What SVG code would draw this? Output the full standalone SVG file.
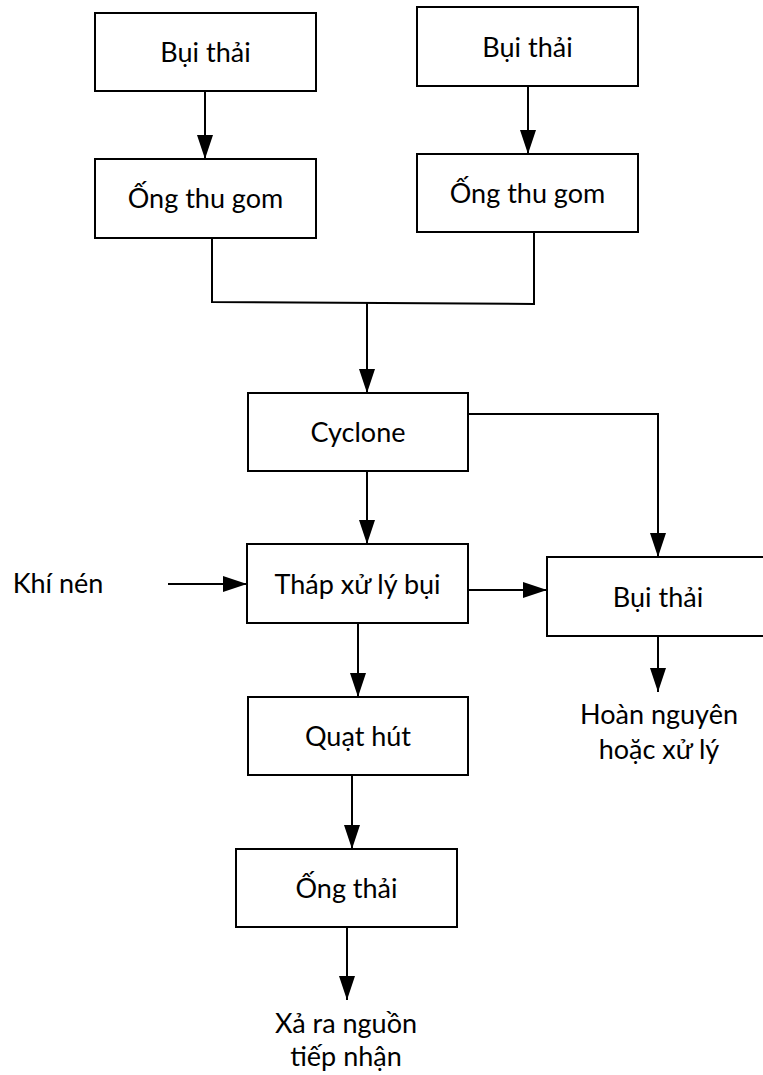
<svg xmlns="http://www.w3.org/2000/svg" width="763" height="1075" viewBox="0 0 763 1075">
  <style>
    .box { fill: #ffffff; stroke: #000000; stroke-width: 2; }
    .lbl { font-family: Lato, "Open Sans", "Liberation Sans", sans-serif; font-size: 27px; fill: #000000; text-anchor: middle; }
    .wire { fill: none; stroke: #000000; stroke-width: 2; }
  </style>
  <defs>
    <marker id="arrow" viewBox="0 0 24 16" refX="24" refY="8" markerWidth="24" markerHeight="16" markerUnits="userSpaceOnUse" orient="auto">
      <path d="M0,0 L24,8 L0,16 Z" fill="#000000"/>
    </marker>
  </defs>

  <!-- connectors -->
  <g id="connectors">
    <line class="wire" x1="205" y1="91" x2="205" y2="159" marker-end="url(#arrow)"/>
    <line class="wire" x1="528" y1="86" x2="528" y2="154" marker-end="url(#arrow)"/>
    <polyline class="wire" points="212,238 212,302 534,304 534,232"/>
    <line class="wire" x1="367" y1="303" x2="367" y2="393" marker-end="url(#arrow)"/>
    <polyline class="wire" points="468,414 658,414 658,557" marker-end="url(#arrow)"/>
    <line class="wire" x1="367" y1="471" x2="367" y2="544" marker-end="url(#arrow)"/>
    <line class="wire" x1="168" y1="584" x2="247" y2="584" marker-end="url(#arrow)"/>
    <line class="wire" x1="468" y1="590" x2="547" y2="590" marker-end="url(#arrow)"/>
    <line class="wire" x1="358" y1="623" x2="358" y2="697" marker-end="url(#arrow)"/>
    <line class="wire" x1="658" y1="636" x2="658" y2="692" marker-end="url(#arrow)"/>
    <line class="wire" x1="352" y1="775" x2="352" y2="849" marker-end="url(#arrow)"/>
    <line class="wire" x1="347" y1="927" x2="347" y2="1000" marker-end="url(#arrow)"/>
  </g>

  <g id="bui-thai-1">
    <rect class="box" x="95" y="13" width="221" height="78"/>
    <text class="lbl" x="205.5" y="62">Bụi thải</text>
  </g>
  <g id="ong-thu-gom-1">
    <rect class="box" x="95" y="159" width="221" height="79"/>
    <text class="lbl" x="205.5" y="208">Ống thu gom</text>
  </g>
  <g id="bui-thai-2">
    <rect class="box" x="417" y="7" width="221" height="79"/>
    <text class="lbl" x="527.5" y="57">Bụi thải</text>
  </g>
  <g id="ong-thu-gom-2">
    <rect class="box" x="417" y="154" width="221" height="78"/>
    <text class="lbl" x="527.5" y="203">Ống thu gom</text>
  </g>
  <g id="cyclone">
    <rect class="box" x="248" y="393" width="220" height="78"/>
    <text class="lbl" x="358" y="442">Cyclone</text>
  </g>
  <g id="khi-nen">
    <text class="lbl" x="58" y="593">Khí nén</text>
  </g>
  <g id="thap-xu-ly-bui">
    <rect class="box" x="247" y="544" width="221" height="79"/>
    <text class="lbl" x="357.5" y="594">Tháp xử lý bụi</text>
  </g>
  <g id="bui-thai-3">
    <rect class="box" x="547" y="557" width="225" height="79"/>
    <text class="lbl" x="658" y="607">Bụi thải</text>
  </g>
  <g id="hoan-nguyen">
    <text class="lbl" x="659" y="724">Hoàn nguyên</text>
    <text class="lbl" x="659" y="759">hoặc xử lý</text>
  </g>
  <g id="quat-hut">
    <rect class="box" x="248" y="697" width="220" height="78"/>
    <text class="lbl" x="358" y="746">Quạt hút</text>
  </g>
  <g id="ong-thai">
    <rect class="box" x="236" y="849" width="221" height="78"/>
    <text class="lbl" x="346.5" y="898">Ống thải</text>
  </g>
  <g id="xa-ra">
    <text class="lbl" x="346" y="1033">Xả ra nguồn</text>
    <text class="lbl" x="346" y="1066">tiếp nhận</text>
  </g>
</svg>
